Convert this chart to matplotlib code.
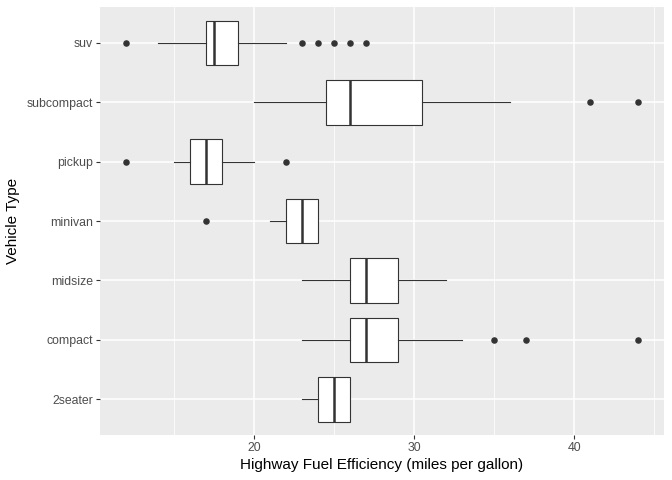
import matplotlib
matplotlib.use("Agg")
import matplotlib.pyplot as plt
from matplotlib.ticker import MultipleLocator

# hwy by class (mpg data), summary
classes = ["2seater", "compact", "midsize", "minivan", "pickup", "subcompact", "suv"]
q1 = [24, 26, 26, 22, 16, 24.5, 17]
med = [25, 27, 27, 23, 17, 26, 17.5]
q3 = [26, 29, 29, 24, 18, 30.5, 19]
whislo = [23, 23, 23, 21, 15, 20, 14]
whishi = [26, 33, 32, 24, 20, 36, 22]
outliers = [[], [35, 37, 44], [], [17], [12, 22], [41, 44], [12, 23, 24, 25, 26, 27]]

plt.rcParams["font.family"] = ["Liberation Sans", "DejaVu Sans"]

fig = plt.figure(figsize=(6.72, 4.8), dpi=100)
ax = fig.add_axes([0.1488, 0.094, 0.8393, 0.891])
ax.set_facecolor("#EBEBEB")

stats = []
for i, c in enumerate(classes):
    stats.append(dict(label=c, q1=q1[i], med=med[i], q3=q3[i],
                      whislo=whislo[i], whishi=whishi[i], fliers=outliers[i]))

ink = "#333333"
ax.bxp(stats, positions=range(1, len(classes) + 1), vert=False, widths=0.75,
       showcaps=False, patch_artist=True,
       boxprops=dict(facecolor="white", edgecolor=ink, linewidth=0.8),
       medianprops=dict(color=ink, linewidth=1.8),
       whiskerprops=dict(color=ink, linewidth=0.8),
       flierprops=dict(marker="o", markerfacecolor=ink, markeredgecolor=ink,
                       markersize=3.7, linestyle="none"),
       zorder=3)

ax.set_xlim(10.4, 45.6)
ax.set_ylim(0.4, 7.6)
ax.xaxis.set_major_locator(MultipleLocator(10))
ax.xaxis.set_minor_locator(MultipleLocator(5))
ax.set_yticks(range(1, len(classes) + 1))
ax.set_yticklabels(classes)

ax.grid(which="major", color="white", linewidth=1.1, zorder=0)
ax.grid(which="minor", axis="x", color="white", linewidth=0.55, zorder=0)
ax.set_axisbelow(True)
for s in ax.spines.values():
    s.set_visible(False)

ax.tick_params(axis="both", which="major", length=3, width=0.8, color=ink,
               labelcolor="#4D4D4D", labelsize=8.8, pad=2)
ax.tick_params(axis="both", which="minor", length=0)

ax.set_xlabel("Highway Fuel Efficiency (miles per gallon)", fontsize=11, color="black", labelpad=3)
ax.set_ylabel("Vehicle Type", fontsize=11, color="black", labelpad=5)

fig.savefig("out.png", dpi=100, facecolor="white")
